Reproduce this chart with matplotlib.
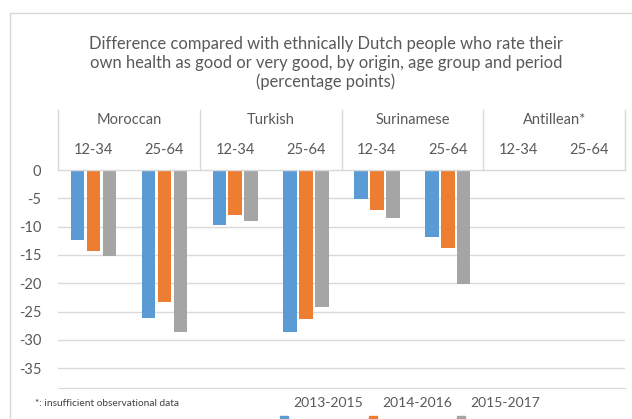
import numpy as np
import matplotlib.pyplot as plt
from matplotlib.transforms import blended_transform_factory
from matplotlib.patches import Rectangle

plt.rcParams['font.family'] = ['Lato', 'DejaVu Sans']

origins = ['Moroccan', 'Turkish', 'Surinamese', 'Antillean*']
ages = ['12-34', '25-64']
periods = ['2013-2015', '2014-2016', '2015-2017']
# values per category (origin x age), NaN = no data
p2013 = [-12.3, -26.2, -9.8, -28.6, -5.1, -11.8, np.nan, np.nan]
p2014 = [-14.3, -23.4, -7.9, -26.4, -7.1, -13.8, np.nan, np.nan]
p2015 = [-15.1, -28.6, -9.0, -24.2, -8.5, -20.2, np.nan, np.nan]
yticks = [0, -5, -10, -15, -20, -25, -30, -35]

colors = ['#5b9bd5', '#ed7d31', '#a5a5a5']
txt = '#595959'
grid = '#d9d9d9'

W, H = 632, 419
fig = plt.figure(figsize=(W / 100, H / 100), dpi=100)
ax = fig.add_axes([58 / W, 1 - 388 / H, (625 - 58) / W, (388 - 170) / H])

x = np.arange(len(p2013))
bw = 0.19
off = 0.225
for k, vals in enumerate([p2013, p2014, p2015]):
    ax.bar(x + (k - 1) * off, vals, width=bw, color=colors[k], zorder=3)

ax.set_xlim(-0.5, len(x) - 0.5)
ax.set_ylim(-38.5, 0)
ax.set_yticks(yticks)
ax.set_yticklabels([str(v) for v in yticks], color=txt, fontsize=10.5)
ax.tick_params(axis='y', length=0, pad=12)
ax.tick_params(axis='x', bottom=False, labelbottom=False)
for s in ['left', 'right', 'top']:
    ax.spines[s].set_visible(False)
ax.spines['bottom'].set_color(grid)
for v in yticks[1:]:
    ax.axhline(v, color=grid, lw=1, zorder=1)

# category axis at the top (zero line)
tr = blended_transform_factory(ax.transData, ax.transAxes)
ax.axhline(0, color=grid, lw=1, zorder=4, clip_on=False)
px = 1 / (388 - 170)
for i, lab in enumerate(ages * len(origins)):
    ax.text(i, 1 + 20 * px, lab, transform=tr, ha='center', va='center',
            color=txt, fontsize=10.5)
for g, org in enumerate(origins):
    ax.text(2 * g + 0.5, 1 + 50 * px, org, transform=tr, ha='center',
            va='center', color=txt, fontsize=10.5)
for b in range(len(origins) + 1):
    ax.plot([2 * b - 0.5, 2 * b - 0.5], [1, 1 + 60 * px], transform=tr,
            color=grid, lw=1, clip_on=False)

# title
fig.text(326 / W, 1 - 63 / H,
         'Difference compared with ethnically Dutch people who rate their\n'
         'own health as good or very good, by origin, age group and period\n'
         '(percentage points)',
         ha='center', va='center', color=txt, fontsize=11.9, linespacing=1.2)

# footnote and legend
fig.text(35 / W, 1 - 403 / H, '*: insufficient observational data',
         ha='left', va='center', color='#404040', fontsize=7.3)
for k, (lab, lx) in enumerate(zip(periods, [293, 382, 470])):
    fig.text(lx / W, 1 - 403 / H, lab, ha='left', va='center',
             color=txt, fontsize=10)
    fig.patches.append(Rectangle(((lx - 13) / W, 0), 8 / W, 3 / H,
                                 transform=fig.transFigure,
                                 color=colors[k]))

# chart border
fig.patches.append(Rectangle((10 / W, -0.01), (W - 8) / W, 1 - 13 / H + 0.01,
                             transform=fig.transFigure, fill=False,
                             edgecolor=grid, lw=1))

fig.savefig('out.png', dpi=100)
